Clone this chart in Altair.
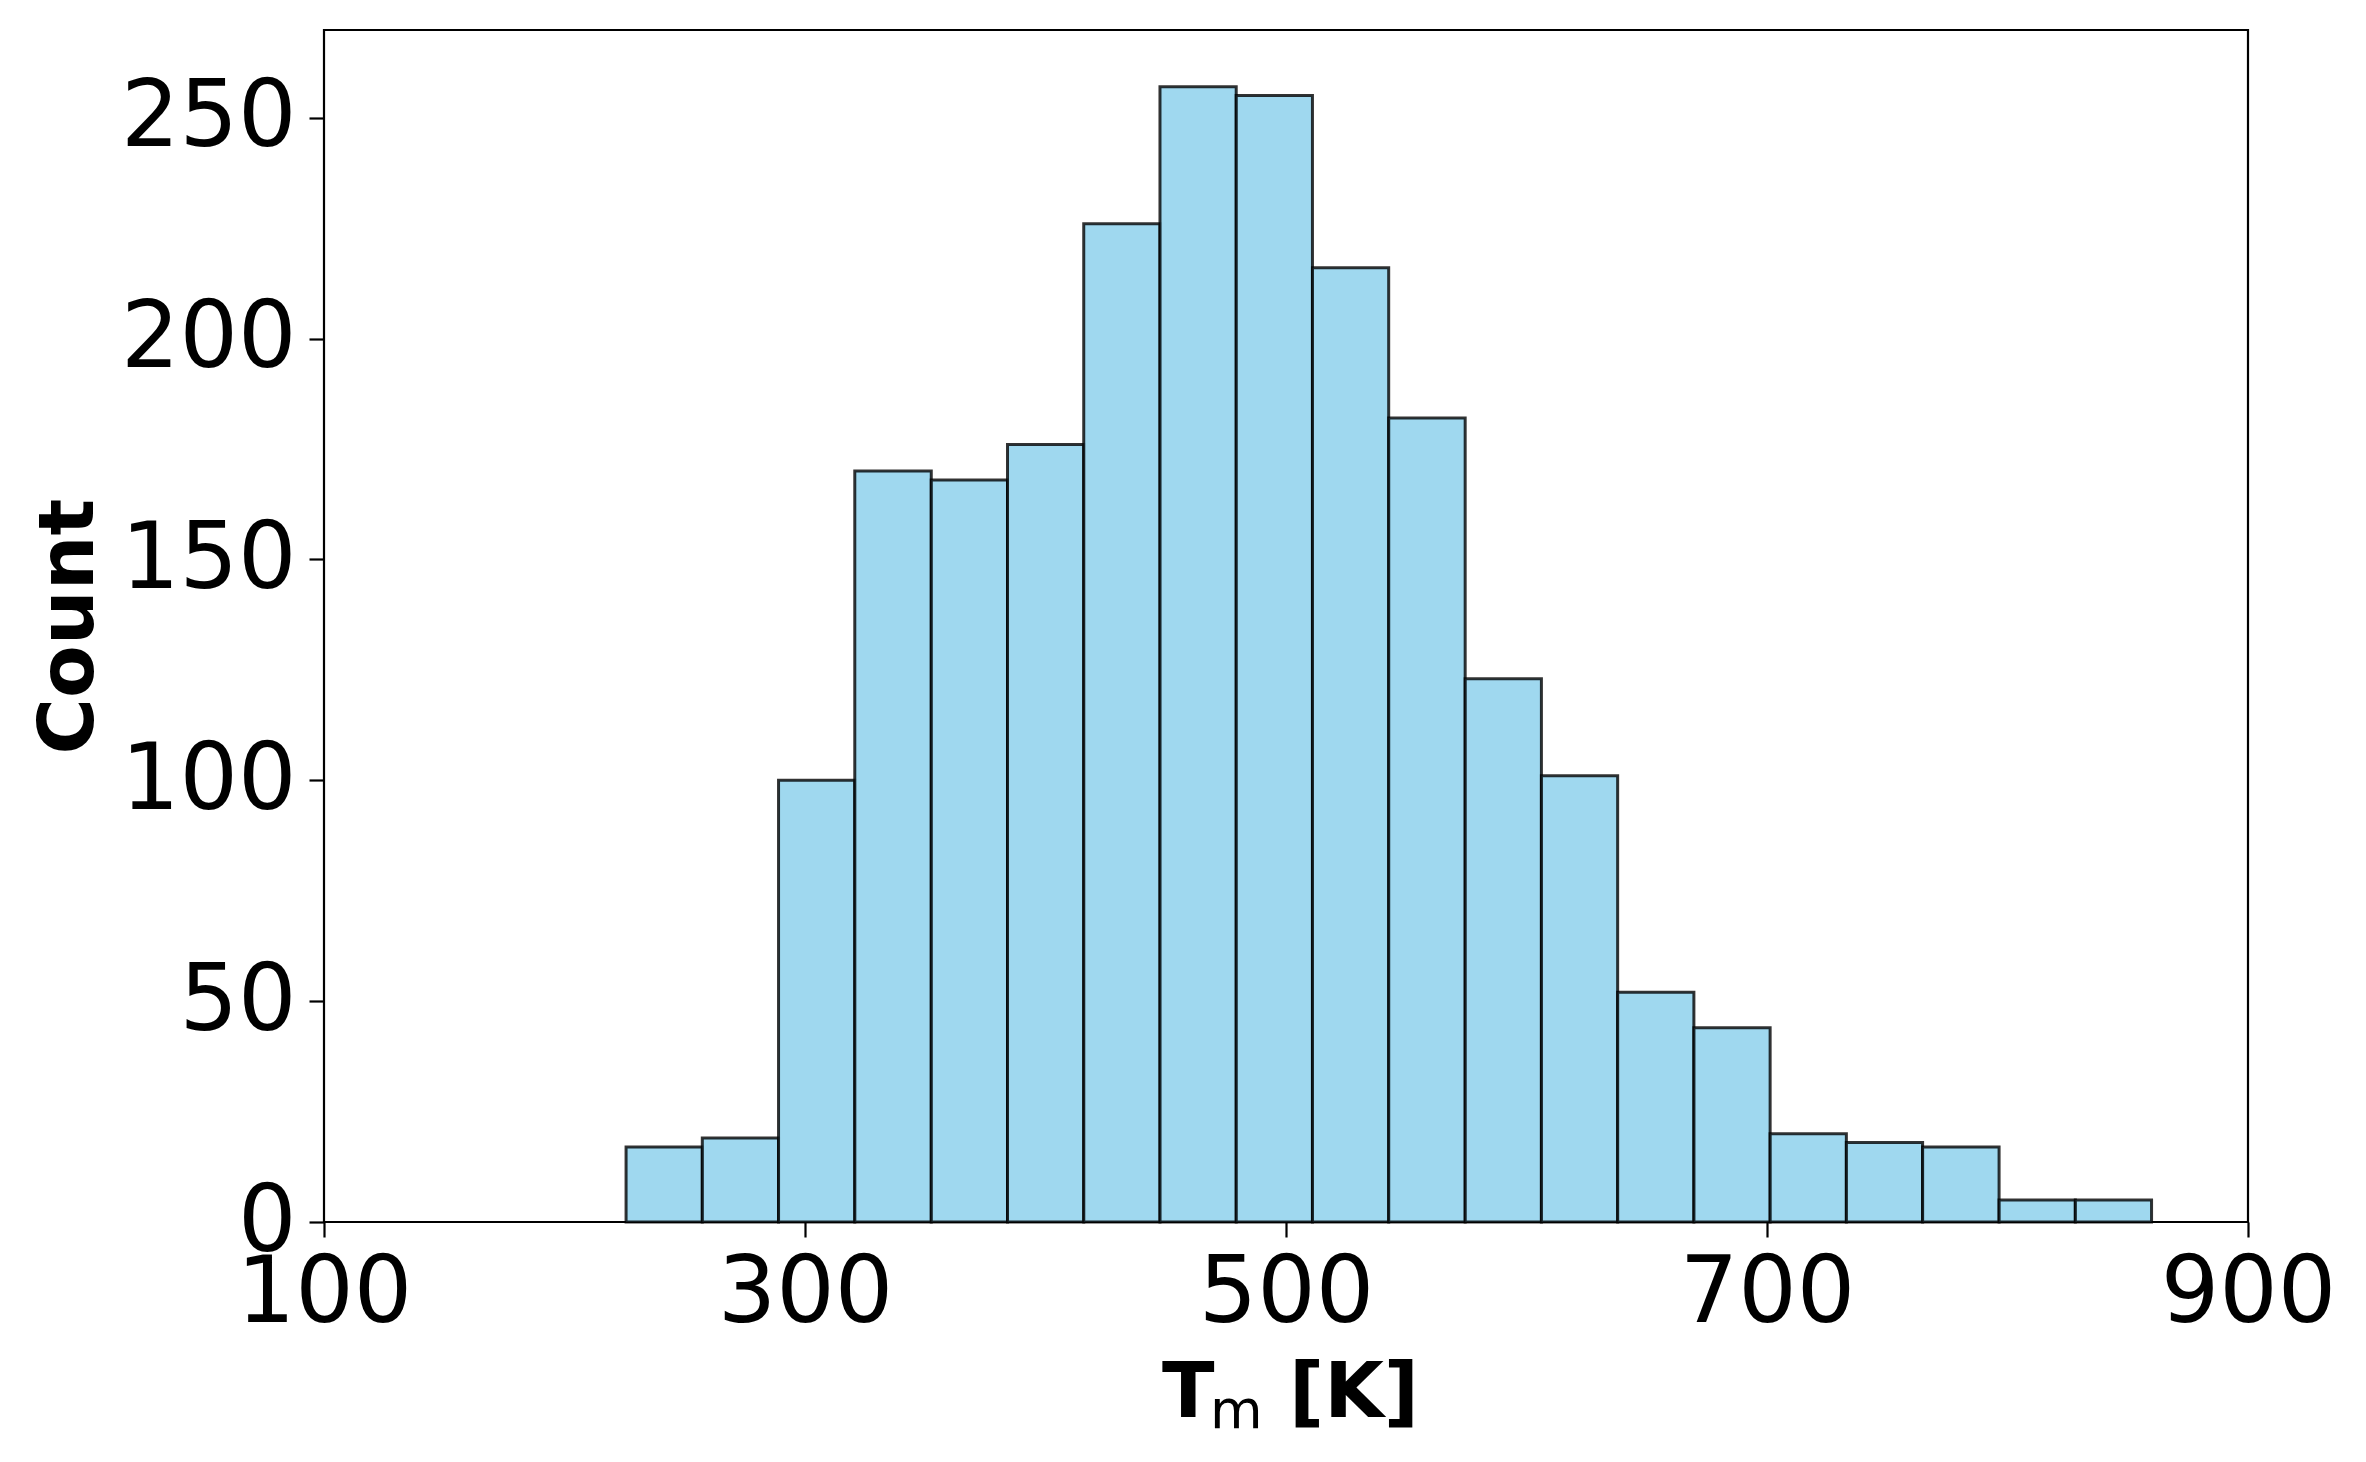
import altair as alt
import pandas as pd

# Histogram bin edges (K)
bin_edges = [225.6, 257.3, 289.0, 320.7, 352.5, 384.2, 415.9, 447.6, 479.3, 511.0,
             542.7, 574.5, 606.2, 637.9, 669.6, 701.3, 733.0, 764.7, 796.5, 828.2, 859.9]
# Counts per bin
counts = [17, 19, 100, 170, 168, 176, 226, 257, 255, 216,
          182, 123, 101, 52, 44, 20, 18, 17, 5, 5]
x_ticks = [100, 300, 500, 700, 900]
y_ticks = [0, 50, 100, 150, 200, 250]

df = pd.DataFrame({
    "start": bin_edges[:-1],
    "end": bin_edges[1:],
    "count": counts,
})

W, H = 1924, 1192

bars = alt.Chart(df).mark_bar(
    fill="#87CEEB", fillOpacity=0.8,
    stroke="black", strokeOpacity=0.8, strokeWidth=3,
).encode(
    x=alt.X("start:Q",
            scale=alt.Scale(domain=[100, 900], nice=False, zero=False),
            axis=alt.Axis(values=x_ticks, title=None, labelFlush=False,
                          labelOverlap=False, labelPadding=11)),
    x2="end:Q",
    y=alt.Y("count:Q",
            scale=alt.Scale(domain=[0, 269.85], nice=False),
            axis=alt.Axis(values=y_ticks, title="Count", labelPadding=13,
                          labelOverlap=False, labelFlush=False,
                          titleX=-232, titleY=596, titleAngle=270,
                          titleBaseline="alphabetic", titleAlign="center",
                          titleFont="DejaVu Sans", titleFontWeight="bold",
                          titleFontSize=77, titleColor="black")),
    y2=alt.datum(0),
)

t_big = alt.Chart(pd.DataFrame({"t": ["T"]})).mark_text(
    font="DejaVu Sans", fontWeight="bold", fontSize=77, color="black",
    align="left", baseline="alphabetic",
).encode(text="t:N", x=alt.value(838), y=alt.value(1387))

t_sub = alt.Chart(pd.DataFrame({"t": ["m"]})).mark_text(
    font="DejaVu Sans", fontWeight="normal", fontSize=54, color="black",
    align="left", baseline="alphabetic",
).encode(text="t:N", x=alt.value(886), y=alt.value(1398))

t_unit = alt.Chart(pd.DataFrame({"t": ["[K]"]})).mark_text(
    font="DejaVu Sans", fontWeight="bold", fontSize=77, color="black",
    align="left", baseline="alphabetic",
).encode(text="t:N", x=alt.value(965), y=alt.value(1387))

chart = alt.layer(bars, t_big, t_sub, t_unit).properties(
    width=W, height=H,
    autosize=alt.AutoSizeParams(type="none"),
    padding={"left": 316, "top": 22, "right": 100, "bottom": 220},
).configure_view(
    stroke="black", strokeWidth=2.2,
).configure_axis(
    grid=False, domain=False,
    labelFont="DejaVu Sans", labelFontSize=92, labelColor="black",
    tickColor="black", tickWidth=2.2, tickSize=15,
)

chart.save("out.html", embed_options={"renderer": "svg", "actions": False})
